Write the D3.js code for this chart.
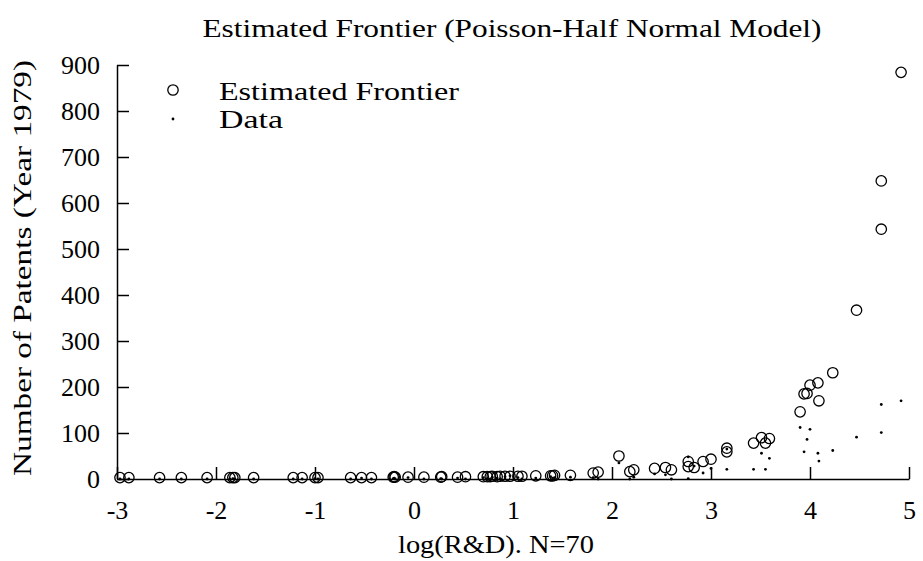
<!DOCTYPE html>
<html lang="en">
<head>
  <meta charset="UTF-8">
  <title>Estimated Frontier (Poisson-Half Normal Model)</title>
  <style>
  body {
    margin: 0;
    background: white;
  }
  svg text {
    font-family: "Liberation Serif", "DejaVu Serif", serif;
    fill: black;
  }
  .axis path,
  .axis line {
    stroke: black;
    stroke-width: 1.5;
  }
  .axis text {
    font-size: 26px;
  }
  </style>
</head>
<body>
  <script src="https://d3js.org/d3.v7.min.js"></script>
  <script>

  // log(R&D) for each firm
  var logRD = [
    -2.97, -2.88, -2.57, -2.35, -2.09, -1.86, -1.83, -1.81, -1.62, -1.22,
    -1.13, -1.00, -0.97, -0.64, -0.53, -0.43, -0.21, -0.20, -0.19, -0.06,
     0.10,  0.27,  0.28,  0.44,  0.52,  0.70,  0.74,  0.77,  0.79,  0.84,
     0.87,  0.92,  0.97,  1.05,  1.09,  1.23,  1.38,  1.40,  1.42,  1.58,
     1.81,  1.86,  2.07,  2.18,  2.22,  2.43,  2.54,  2.60,  2.77,  2.77,
     2.83,  2.92,  3.00,  3.16,  3.16,  3.43,  3.51,  3.55,  3.59,  3.90,
     3.94,  3.97,  4.00,  4.08,  4.09,  4.23,  4.47,  4.72,  4.72,  4.92
  ];

  // estimated frontier (circles)
  var frontier = [
      3,   3,   3,   3,   3,   3,   3,   3,   3,   3,
      3,   3,   3,   3,   3,   3,   4,   5,   4,   4,
      4,   4,   5,   4,   5,   5,   5,   5,   6,   5,
      6,   6,   6,   6,   6,   7,   7,   7,   8,   8,
     13,  15,  50,  16,  20,  23,  25,  20,  38,  27,
     25,  38,  43,  67,  59,  78,  90,  78,  88, 146,
    185, 186, 204, 209, 170, 231, 367, 543, 648, 884
  ];

  // observed patents (dots)
  var patents = [
      0,   0,   0,   0,   0,   0,   1,   0,   0,   0,
      0,   1,   0,   0,   2,   0,   1,   2,   0,   3,
      0,   1,   0,   2,   0,   3,   1,   0,   4,   2,
      0,   5,   7,   3,   0,   2,   5,   2,   3,   4,
      3,   0,  35,   0,   4,  11,   9,   0,  48,   1,
     28,  13,  23,  65,  21,  21,  56,  21,  45, 112,
     59,  86, 108,  56,  39,  62,  91, 101, 162, 170
  ];

  var xTicks = [-3, -2, -1, 0, 1, 2, 3, 4, 5];
  var yTicks = [0, 100, 200, 300, 400, 500, 600, 700, 800, 900];

  var width = 923;
  var height = 561;

  var x = d3.scaleLinear().domain([-3, 5]).range([117, 909]);
  var y = d3.scaleLinear().domain([0, 900]).range([479, 65]);

  var points = logRD.map(function (d, i) {
    return { x: d, f: frontier[i], p: patents[i] };
  });

  var svg = d3.select('body').append('svg')
              .attr('width', width)
              .attr('height', height);

  svg.append('g')
     .attr('class', 'axis')
     .attr('transform', 'translate(0,' + y(0) + ')')
     .call(d3.axisBottom(x)
             .tickValues(xTicks)
             .tickFormat(function (d) { return String(d); })
             .tickSize(-12)
             .tickSizeOuter(0)
             .tickPadding(22));

  svg.append('g')
     .attr('class', 'axis')
     .attr('transform', 'translate(' + x(-3) + ',0)')
     .call(d3.axisLeft(y)
             .tickValues(yTicks)
             .tickFormat(function (d) { return String(d); })
             .tickSize(-12)
             .tickSizeOuter(0)
             .tickPadding(17));

  svg.selectAll('.axis text')
     .attr('fill', 'black')
     .style('font-family', '"Liberation Serif", serif');

  svg.append('g')
     .selectAll('circle')
     .data(points)
     .enter()
     .append('circle')
     .attr('cx', function (d) { return x(d.x); })
     .attr('cy', function (d) { return y(d.f); })
     .attr('r', 5.2)
     .attr('fill', 'none')
     .attr('stroke', 'black')
     .attr('stroke-width', 1.3);

  svg.append('g')
     .selectAll('circle')
     .data(points)
     .enter()
     .append('circle')
     .attr('cx', function (d) { return x(d.x); })
     .attr('cy', function (d) { return y(d.p); })
     .attr('r', 1.4)
     .attr('fill', 'black');

  // legend
  var legend = svg.append('g');
  legend.append('circle')
        .attr('cx', 173).attr('cy', 90).attr('r', 5.2)
        .attr('fill', 'none').attr('stroke', 'black').attr('stroke-width', 1.3);
  legend.append('text')
        .attr('x', 219).attr('y', 100)
        .attr('textLength', 240)
        .attr('lengthAdjust', 'spacingAndGlyphs')
        .style('font-size', '26px')
        .text('Estimated Frontier');
  legend.append('circle')
        .attr('cx', 173).attr('cy', 119).attr('r', 1.4)
        .attr('fill', 'black');
  legend.append('text')
        .attr('x', 219).attr('y', 128)
        .attr('textLength', 64)
        .attr('lengthAdjust', 'spacingAndGlyphs')
        .style('font-size', '26px')
        .text('Data');

  // title and axis labels (stretched to the reference's wider face)
  svg.append('text')
     .attr('x', 512)
     .attr('y', 37)
     .attr('text-anchor', 'middle')
     .attr('textLength', 619)
     .attr('lengthAdjust', 'spacingAndGlyphs')
     .style('font-size', '26px')
     .text('Estimated Frontier (Poisson-Half Normal Model)');

  svg.append('text')
     .attr('x', 496)
     .attr('y', 553)
     .attr('text-anchor', 'middle')
     .attr('textLength', 196)
     .attr('lengthAdjust', 'spacingAndGlyphs')
     .style('font-size', '26px')
     .text('log(R&D). N=70');

  svg.append('text')
     .attr('transform', 'translate(31,268) rotate(-90)')
     .attr('text-anchor', 'middle')
     .attr('textLength', 416)
     .attr('lengthAdjust', 'spacingAndGlyphs')
     .style('font-size', '26px')
     .text('Number of Patents (Year 1979)');
  </script>
</body>
</html>
